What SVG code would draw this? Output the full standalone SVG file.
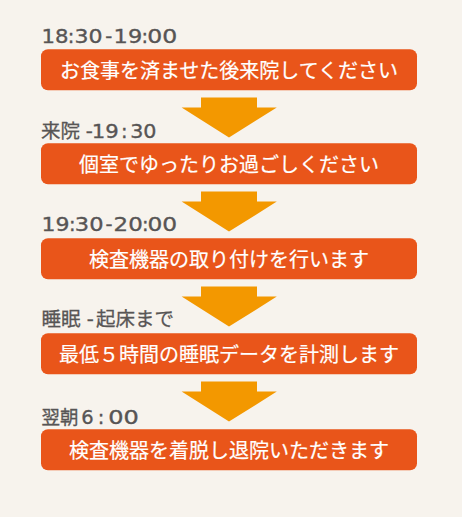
<svg xmlns="http://www.w3.org/2000/svg" width="462" height="517" viewBox="0 0 462 517">
<style>
.bg{fill:#f7f3ed}
.box{fill:#e9551a}
.arrow{fill:#f39800}
.lbl{fill:#575555;stroke:#575555;stroke-width:0.35px;font-family:"DejaVu Sans","Noto Sans CJK JP",sans-serif;font-size:19.5px}
.cjk{font-family:"Noto Sans CJK JP",sans-serif;stroke-width:0.3px}
.txt{fill:#ffffff;stroke:#ffffff;stroke-width:0.2px;font-family:"Noto Sans CJK JP",sans-serif;font-size:20px;text-anchor:middle}
</style>
<defs>
<path id="arr" d="M201,0 H257 V10 H276.8 L229,40 L181.6,10 H201 Z"/>
</defs>
<rect class="bg" x="0" y="0" width="462" height="517"/>
<g id="connectors">
<use href="#arr" class="arrow" y="97.5"/>
<use href="#arr" class="arrow" y="191.6"/>
<use href="#arr" class="arrow" y="286.6"/>
<use href="#arr" class="arrow" y="381.6"/>
</g>
<g id="step1">
<text class="lbl" y="42.5"><tspan x="41.5" textLength="27" lengthAdjust="spacingAndGlyphs">18</tspan><tspan x="67.7">:</tspan><tspan x="74.4" textLength="28.1" lengthAdjust="spacingAndGlyphs">30</tspan> <tspan x="105.3">-</tspan> <tspan x="113.6" textLength="28.6" lengthAdjust="spacingAndGlyphs">19</tspan><tspan x="141.4">:</tspan><tspan x="147.2" textLength="30" lengthAdjust="spacingAndGlyphs">00</tspan></text>
<rect class="box" x="41" y="49.3" width="376" height="41" rx="7"/>
<text class="txt" x="229" y="77.5">お食事を済ませた後来院してください</text>
</g>
<g id="step2">
<text class="lbl" y="137.7"><tspan class="cjk" x="41">来院</tspan> <tspan x="85.8">-</tspan><tspan x="91.8" textLength="27" lengthAdjust="spacingAndGlyphs">19</tspan><tspan x="121">:</tspan><tspan x="130.2" textLength="26.3" lengthAdjust="spacingAndGlyphs">30</tspan></text>
<rect class="box" x="41" y="143.3" width="376" height="41" rx="7"/>
<text class="txt" x="229" y="171.5">個室でゆったりお過ごしください</text>
</g>
<g id="step3">
<text class="lbl" y="230.8"><tspan x="41.5" textLength="28" lengthAdjust="spacingAndGlyphs">19</tspan><tspan x="69">:</tspan><tspan x="74.8" textLength="28.7" lengthAdjust="spacingAndGlyphs">30</tspan> <tspan x="105.6">-</tspan> <tspan x="113.6" textLength="29.2" lengthAdjust="spacingAndGlyphs">20</tspan><tspan x="142">:</tspan><tspan x="147.5" textLength="29.7" lengthAdjust="spacingAndGlyphs">00</tspan></text>
<rect class="box" x="41" y="238.3" width="376" height="41" rx="7"/>
<text class="txt" x="229" y="266.5">検査機器の取り付けを行います</text>
</g>
<g id="step4">
<text class="lbl" y="326"><tspan class="cjk" x="41.5">睡眠</tspan> <tspan x="86.8">-</tspan> <tspan class="cjk" x="96">起床まで</tspan></text>
<rect class="box" x="41" y="333.3" width="376" height="41" rx="7"/>
<text class="txt" x="229" y="361.5">最低５時間の睡眠データを計測します</text>
</g>
<g id="step5">
<text class="lbl" y="424"><tspan class="cjk" x="41.5" style="font-size:18.5px">翌朝</tspan> <tspan x="81.3">6</tspan> <tspan x="97.7">:</tspan> <tspan x="108.2" textLength="30.6" lengthAdjust="spacingAndGlyphs">00</tspan></text>
<rect class="box" x="41" y="429.3" width="376" height="41" rx="7"/>
<text class="txt" x="229" y="457.5">検査機器を着脱し退院いただきます</text>
</g>
</svg>
